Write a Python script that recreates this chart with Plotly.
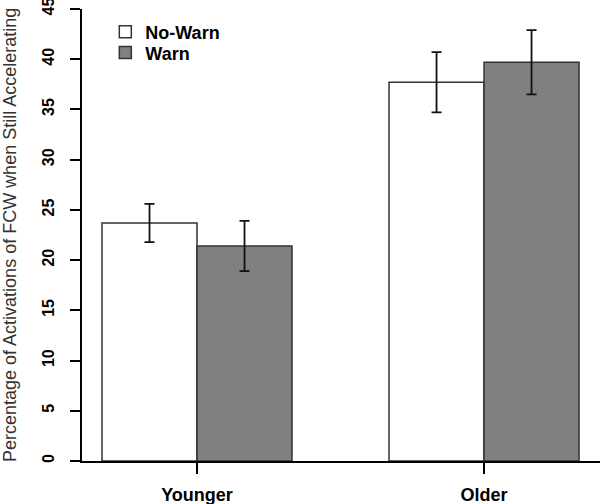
import plotly.graph_objects as go

groups = ["Younger", "Older"]
group_pos = [0, 1]
series_names = ["No-Warn", "Warn"]
nowarn_vals = [23.7, 37.7]
nowarn_err = [1.9, 3.0]
warn_vals = [21.4, 39.7]
warn_err = [2.5, 3.2]
y_ticks = [0, 5, 10, 15, 20, 25, 30, 35, 40, 45]
y_title = "Percentage of Activations of FCW when Still Accelerating"

FONT = "Arial, Liberation Sans, sans-serif"

fig = go.Figure()
fig.add_trace(go.Bar(
    x=group_pos, y=nowarn_vals, name=series_names[0], legend="legend",
    marker=dict(color="white", line=dict(color="#333333", width=1.5)),
    error_y=dict(type="data", array=nowarn_err, color="#111111", thickness=1.8, width=5),
))
fig.add_trace(go.Bar(
    x=group_pos, y=warn_vals, name=series_names[1], legend="legend2",
    marker=dict(color="#808080", line=dict(color="#333333", width=1.5)),
    error_y=dict(type="data", array=warn_err, color="#111111", thickness=1.8, width=5),
))

legend_common = dict(x=0.045, xanchor="left", yanchor="middle",
                     font=dict(size=18, weight="bold", family=FONT),
                     bgcolor="rgba(0,0,0,0)", itemwidth=30)

fig.update_layout(
    width=600, height=504,
    margin=dict(l=82, r=0, t=9, b=43, autoexpand=False),
    paper_bgcolor="white", plot_bgcolor="white",
    barmode="group", bargap=0.338, bargroupgap=0,
    font=dict(family=FONT, color="black"),
    legend=dict(y=0.949, **legend_common),
    legend2=dict(y=0.903, **legend_common),
    showlegend=True,
    annotations=[dict(
        text=y_title, xref="paper", yref="paper", x=-0.139, y=0.5,
        xanchor="center", yanchor="middle", textangle=-90, showarrow=False,
        font=dict(size=18, family=FONT, color="#333333"),
    )],
)
fig.update_xaxes(
    range=[-0.4007, 1.404], tickvals=group_pos, ticktext=groups,
    showline=True, linecolor="black", linewidth=2,
    ticks="outside", ticklen=11, tickwidth=2, tickcolor="black",
    tickfont=dict(size=18, weight="bold", family=FONT), ticklabelstandoff=5,
    showgrid=False, zeroline=False, automargin=False,
)
fig.update_yaxes(
    range=[0, 45], tickvals=y_ticks,
    showline=True, linecolor="black", linewidth=2,
    ticks="outside", ticklen=10, tickwidth=2, tickcolor="black",
    tickangle=-90, tickfont=dict(size=16, weight="bold", family=FONT),
    ticklabelstandoff=10, ticklabeloverflow="allow",
    showgrid=False, zeroline=False, automargin=False,
)

fig.write_html("out.html", config={"displayModeBar": False},
               post_script="document.body.style.margin='0';")
